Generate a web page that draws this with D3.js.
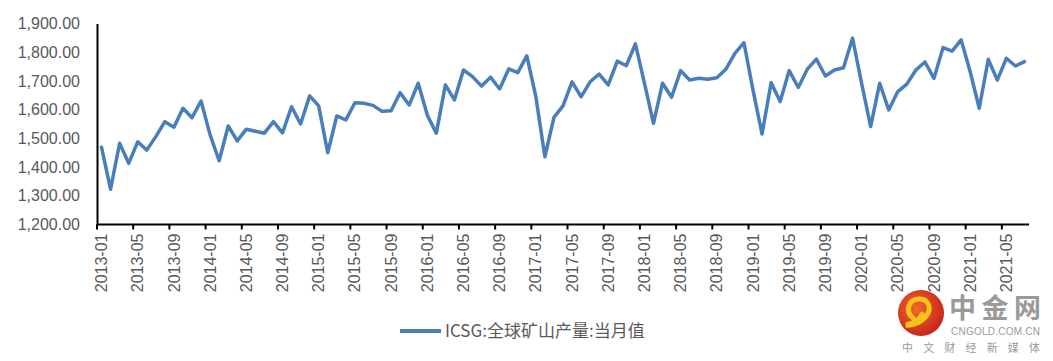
<!DOCTYPE html>
<html>
<head>
<meta charset="utf-8">
<script src="https://cdn.jsdelivr.net/npm/d3@7/dist/d3.min.js"></script>
<style>
  html, body { margin: 0; padding: 0; background: #fff; }
  svg { display: block; }
</style>
</head>
<body>
<svg id="chart" width="1053" height="361"></svg>
<script>
// ---- data ----
const monthCount = 103; // 2013-01 .. 2021-07
const categories = d3.timeMonths(new Date(2013, 0, 1), new Date(2013, monthCount, 1))
  .map(d3.timeFormat("%Y-%m"));
const values = [
  1469, 1323, 1483, 1413, 1488, 1459, 1506, 1558, 1539, 1605, 1572, 1630,
  1512, 1422, 1543, 1491, 1532, 1525, 1518, 1558, 1519, 1610, 1550, 1648,
  1613, 1450, 1578, 1564, 1624, 1622, 1615, 1594, 1596, 1659, 1616, 1692,
  1581, 1518, 1686, 1634, 1738, 1715, 1682, 1713, 1672, 1742, 1729, 1787,
  1645, 1436, 1573, 1613, 1697, 1645, 1697, 1724, 1686, 1769, 1753, 1829,
  1692, 1552, 1692, 1643, 1736, 1703, 1709, 1706, 1711, 1741, 1796, 1833,
  1668, 1515, 1694, 1628, 1736, 1677, 1741, 1776, 1717, 1738, 1746, 1849,
  1692, 1541, 1692, 1599, 1663, 1689, 1738, 1766, 1709, 1816, 1804, 1843,
  1732, 1605, 1775, 1703, 1779, 1752, 1767
];
const yTicks = [1200, 1300, 1400, 1500, 1600, 1700, 1800, 1900];
const xLabelEvery = 4;
const seriesName = "ICSG:全球矿山产量:当月值";

// ---- layout ----
const svg = d3.select("#chart");
const mLeft = 97, mRight = 1029, mTop = 23.5, mBottom = 224.5;
const textColor = "#595959";
const lineColor = "#4a7ebb";

const x = d3.scaleBand().domain(categories).range([mLeft, mRight]).padding(0);
const y = d3.scaleLinear().domain([1200, 1900]).range([mBottom, mTop]);
const bw = x.bandwidth();

// y axis
const yAxis = d3.axisLeft(y).tickValues(yTicks).tickSize(0).tickPadding(17)
  .tickFormat(d3.format(",.2f"));
const gy = svg.append("g").attr("transform", `translate(${mLeft},0)`).call(yAxis);
gy.select(".domain").attr("stroke", "#000").attr("stroke-width", 2);
gy.selectAll("text").attr("fill", textColor)
  .style("font-family", "'Liberation Sans', Arial, sans-serif").style("font-size", "16px");

// x axis
const labelCats = categories.filter((d, i) => i % xLabelEvery === 0);
const xAxis = d3.axisBottom(x).tickValues(labelCats).tickSize(5).tickSizeOuter(0).tickPadding(0);
const gx = svg.append("g").attr("transform", `translate(0,${mBottom})`).call(xAxis);
gx.select(".domain").attr("stroke", "#000").attr("stroke-width", 2)
  .attr("d", `M${mLeft},0H${mRight}`);
gx.selectAll(".tick line").attr("stroke", "#000").attr("stroke-width", 2)
  .attr("x1", -bw / 2).attr("x2", -bw / 2).attr("y1", 0).attr("y2", 5);
gx.selectAll(".tick text")
  .attr("fill", textColor)
  .style("font-family", "'Liberation Sans', Arial, sans-serif").style("font-size", "16px")
  .attr("text-anchor", "end")
  .attr("transform", "rotate(-90)")
  .attr("x", -9).attr("y", 0).attr("dy", "0.35em");

// line
const line = d3.line()
  .x((d, i) => x(categories[i]) + bw / 2)
  .y(d => y(d));
svg.append("path").datum(values)
  .attr("fill", "none").attr("stroke", lineColor).attr("stroke-width", 3.5)
  .attr("stroke-linejoin", "round").attr("stroke-linecap", "round")
  .attr("d", line);

// legend
const lg = svg.append("g").attr("transform", "translate(400,331)");
lg.append("line").attr("x1", 0).attr("x2", 41).attr("y1", 0).attr("y2", 0)
  .attr("stroke", lineColor).attr("stroke-width", 4);
lg.append("text").attr("x", 45).attr("y", 0).attr("dy", "0.36em")
  .attr("fill", textColor)
  .style("font-family", "'Noto Sans CJK SC', sans-serif").style("font-size", "17px")
  .text(seriesName);

// watermark logo
const wm = svg.append("g");
const grad = svg.append("defs").append("radialGradient").attr("id", "lg1")
  .attr("cx", "40%").attr("cy", "40%").attr("r", "60%");
grad.append("stop").attr("offset", "0%").attr("stop-color", "#f06a2a");
grad.append("stop").attr("offset", "100%").attr("stop-color", "#c8281c");
wm.append("circle").attr("cx", 921).attr("cy", 313).attr("r", 23).attr("fill", "url(#lg1)");
wm.append("path")
  .attr("d", "M913,318 C905,312 908,300 918,299 C928,298 932,308 927,315 C922,322 913,326 906,325 C914,323 920,320 922,314")
  .attr("fill", "none").attr("stroke", "#f7c21a").attr("stroke-width", 5).attr("stroke-linecap", "round");
wm.append("text").attr("x", 949).attr("y", 318).attr("fill", "#9a9a9a")
  .style("font-family", "'Noto Sans CJK SC', sans-serif").style("font-size", "27px")
  .style("font-weight", "bold").attr("textLength", 92).text("中金网");
wm.append("text").attr("x", 951).attr("y", 335).attr("fill", "#9a9a9a")
  .style("font-family", "'Liberation Sans', Arial, sans-serif").style("font-size", "10px")
  .attr("textLength", 89).text("CNGOLD.COM.CN");
wm.append("text").attr("x", 902).attr("y", 352).attr("fill", "#9a9a9a")
  .style("font-family", "'Noto Sans CJK SC', sans-serif").style("font-size", "11px")
  .attr("textLength", 138).text("中文财经新媒体");
</script>
</body>
</html>
